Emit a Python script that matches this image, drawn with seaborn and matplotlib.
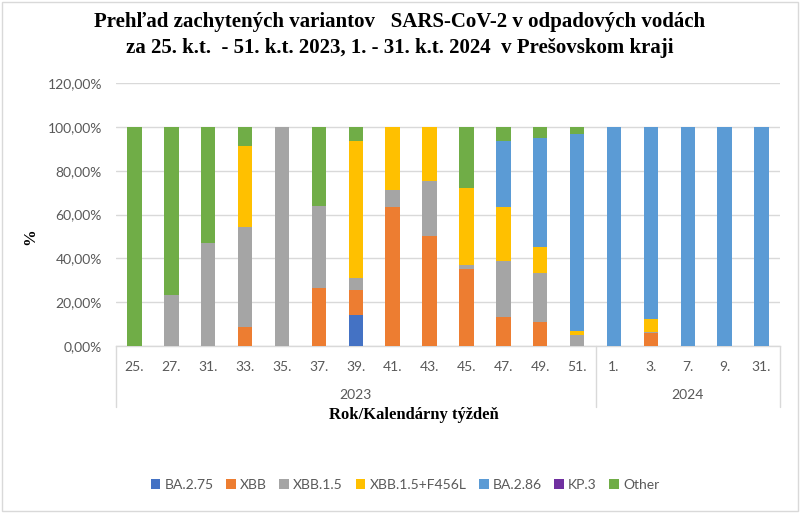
import matplotlib
matplotlib.use("Agg")
import matplotlib.pyplot as plt
import matplotlib.transforms as mtransforms
from matplotlib.patches import Patch, Rectangle
import seaborn as sns
import numpy as np

# ---- data ----
weeks = ["25.", "27.", "31.", "33.", "35.", "37.", "39.", "41.", "43.", "45.",
         "47.", "49.", "51.", "1.", "3.", "7.", "9.", "31."]
years = ["2023"] * 13 + ["2024"] * 5
series_names = ["BA.2.75", "XBB", "XBB.1.5", "XBB.1.5+F456L", "BA.2.86", "KP.3", "Other"]
ba275 = [0, 0, 0, 0, 0, 0, 14.3, 0, 0, 0, 0, 0, 0, 0, 0, 0, 0, 0]
xbb = [0, 0, 0, 8.8, 0, 26.4, 11.4, 63.5, 50.3, 35.0, 13.1, 11.1, 0, 0, 6.1, 0, 0, 0]
xbb15 = [0, 23.3, 46.8, 45.5, 100, 37.4, 5.5, 7.9, 24.8, 2.1, 25.7, 22.0, 4.9, 0, 0.3, 0, 0, 0]
xbb15_f456l = [0, 0, 0, 36.9, 0, 0, 62.4, 28.6, 24.9, 35.1, 24.7, 12.2, 1.9, 0, 5.8, 0, 0, 0]
ba286 = [0, 0, 0, 0, 0, 0, 0, 0, 0, 0, 30.0, 49.8, 89.9, 100, 87.8, 100, 100, 100]
kp3 = [0] * 18
other = [100, 76.7, 53.2, 8.8, 0, 36.2, 6.4, 0, 0, 27.8, 6.5, 4.9, 3.3, 0, 0, 0, 0, 0]
yticks = [0, 20, 40, 60, 80, 100, 120]

colors = ["#4472C4", "#ED7D31", "#A5A5A5", "#FFC000", "#5B9BD5", "#7030A0", "#70AD47"]
series = [ba275, xbb, xbb15, xbb15_f456l, ba286, kp3, other]

sns.set_theme(style="white")
plt.rcParams["font.family"] = ["Lato", "DejaVu Sans"]

fig = plt.figure(figsize=(8, 5.13), dpi=100)
ax = fig.add_axes([116 / 800, 1 - 346 / 513, (780 - 116) / 800, (346 - 83) / 513])

ids = [f"{y}-{w}" for y, w in zip(years, weeks)]
bottom = np.zeros(len(weeks))
for name, vals, col in zip(series_names, series, colors):
    v = np.array(vals, dtype=float)
    sns.barplot(x=ids, y=v, bottom=bottom, color=col, saturation=1, width=0.39,
                ax=ax, order=ids, linewidth=0, zorder=3)
    bottom = bottom + v

ax.set_ylim(0, 120)
ax.set_xlim(-0.5, len(weeks) - 0.5)
ax.set_yticks(yticks)
ax.set_yticklabels([f"{t:.2f}%".replace(".", ",") for t in yticks])
ax.set_xticks(range(len(weeks)))
ax.set_xticklabels(weeks)
ax.tick_params(axis="both", length=0, labelsize=10, labelcolor="#595959")
ax.tick_params(axis="x", pad=11)
ax.tick_params(axis="y", pad=10)
ax.yaxis.grid(True, color="#D9D9D9", linewidth=1, zorder=0)
ax.set_axisbelow(True)
for s in ["left", "right", "top"]:
    ax.spines[s].set_visible(False)
ax.spines["bottom"].set_color("#D9D9D9")
ax.spines["bottom"].set_linewidth(1)
ax.set_xlabel("")
ax.set_ylabel("")

# multi-level category axis
trans = mtransforms.blended_transform_factory(ax.transData, ax.transAxes)
for xb in [-0.5, 12.5, len(weeks) - 0.5]:
    ax.plot([xb, xb], [0, -61 / 263], transform=trans, color="#D9D9D9",
            linewidth=1, clip_on=False)
for yr in ["2023", "2024"]:
    idx = [i for i, y in enumerate(years) if y == yr]
    xc = (idx[0] + idx[-1]) / 2
    ax.text(xc, -49 / 263, yr, transform=trans, ha="center", va="center",
            fontsize=10, color="#595959")

serif_bold = dict(family=["Liberation Serif", "DejaVu Serif"], weight="bold", color="black")
fig.text(0.5, 1 - 22 / 513, "Prehľad zachytených variantov   SARS-CoV-2 v odpadových vodách",
         ha="center", va="center", fontsize=15, **serif_bold)
fig.text(0.5, 1 - 48 / 513, "za 25. k.t.  - 51. k.t. 2023, 1. - 31. k.t. 2024  v Prešovskom kraji",
         ha="center", va="center", fontsize=15, **serif_bold)
fig.text(414 / 800, 1 - 415 / 513, "Rok/Kalendárny týždeň", ha="center", va="center",
         fontsize=12, **serif_bold)
fig.text(30 / 800, 1 - 237 / 513, "%", ha="center", va="center", rotation=90,
         fontsize=12, **serif_bold)

handles = [Patch(facecolor=c, edgecolor="none", label=n) for n, c in zip(series_names, colors)]
leg = fig.legend(handles=handles, loc="center", bbox_to_anchor=(405 / 800, 1 - 485 / 513),
                 ncol=7, frameon=False, fontsize=10, handlelength=0.7, handleheight=0.7,
                 columnspacing=0.9, handletextpad=0.3)
for t in leg.get_texts():
    t.set_color("#595959")

fig.patches.append(Rectangle((0.003, 0.003), 0.994, 0.994, transform=fig.transFigure,
                             fill=False, edgecolor="#D9D9D9", linewidth=1))

fig.savefig("out.png", dpi=100)
